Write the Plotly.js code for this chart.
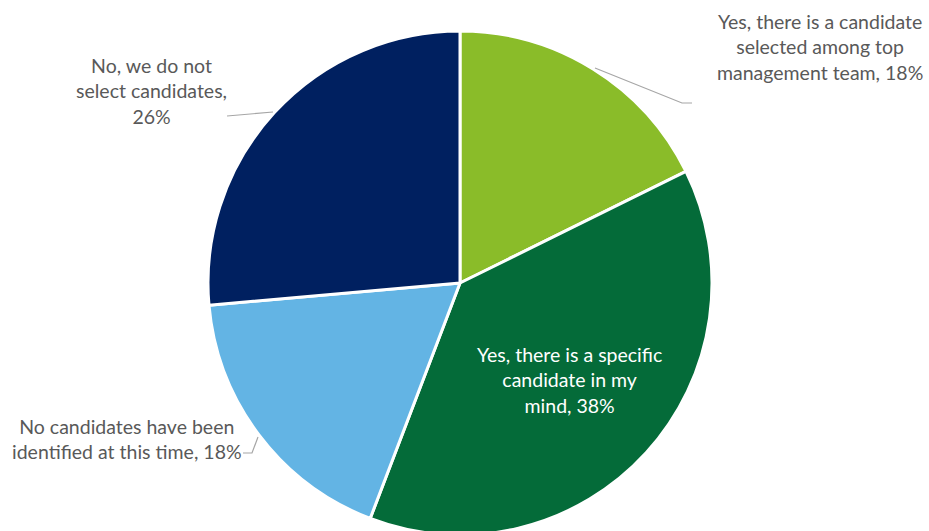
<!DOCTYPE html>
<html><head><meta charset="utf-8">
<script src="https://cdn.plot.ly/plotly-3.0.1.min.js"></script>
<style>html,body{margin:0;padding:0;overflow:hidden;background:#fff}#chart{width:929px;height:540px}</style>
</head><body><div id="chart"></div>
<script>
const categories = [
  "Yes, there is a candidate<br>selected among top<br>management team",
  "Yes, there is a specific<br>candidate in my<br>mind",
  "No candidates have been<br>identified at this time",
  "No, we do not<br>select candidates,<br>"
];
const values = [17.7, 38.1, 17.8, 26.4];
const colors = ["#8ABC29", "#046B39", "#63B4E4", "#002060"];

const W = 929, H = 540;
const px = x => x / W, py = y => (H - y) / H;
const FONT = "Lato, 'Open Sans', sans-serif";

const labelPos = [[820, 47], [569, 380], [127, 439], [151, 91]];
const labelColors = ["#595959", "#FFFFFF", "#595959", "#595959"];
const leaders = [
  [[595, 68], [682, 103], [692, 103]],
  null,
  [[243, 453], [252, 453], [258, 437]],
  [[227, 116], [273, 112]]
];

const annotations = categories.map((c, i) => ({
  xref: 'paper', yref: 'paper', x: px(labelPos[i][0]), y: py(labelPos[i][1]),
  xanchor: 'center', yanchor: 'middle', showarrow: false, align: 'center',
  text: c + (c.endsWith('<br>') ? '' : ', ') + Math.round(values[i]) + '%',
  font: {family: FONT, size: 19.5, color: labelColors[i]}
}));

const shapes = leaders.filter(l => l).map(l => ({
  type: 'path', xref: 'paper', yref: 'paper',
  path: l.map((p, j) => (j ? 'L' : 'M') + px(p[0]) + ',' + py(p[1])).join(' '),
  line: {color: '#A6A6A6', width: 1.2}
}));

const trace = {
  type: 'pie', values: values, labels: categories, sort: false,
  direction: 'clockwise', rotation: 0, textinfo: 'none', hoverinfo: 'none',
  marker: {colors: colors, line: {color: '#FFFFFF', width: 3}},
  domain: {x: [208 / W, 712 / W], y: [py(535), py(31)]},
  showlegend: false
};

Plotly.newPlot('chart', [trace], {
  width: W, height: H, margin: {l: 0, r: 0, t: 0, b: 0},
  paper_bgcolor: '#fff', showlegend: false,
  annotations: annotations, shapes: shapes
}, {displayModeBar: false, staticPlot: true});
</script></body></html>
